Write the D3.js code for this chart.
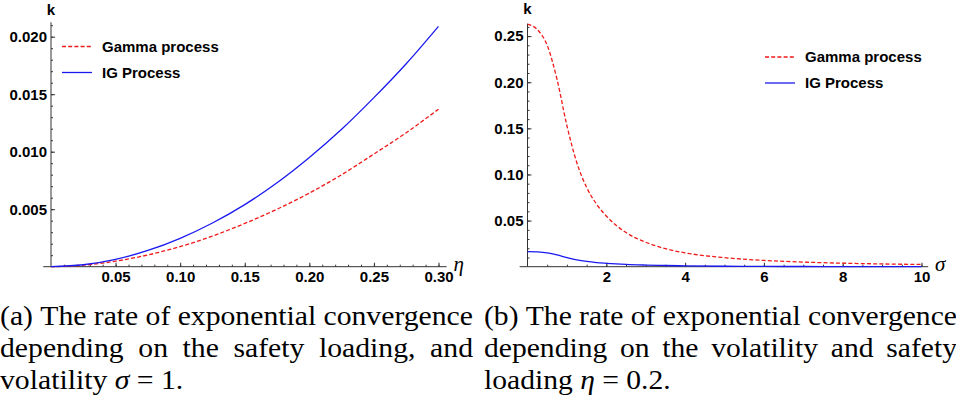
<!DOCTYPE html>
<html>
<head>
<meta charset="utf-8">
<script src="https://cdn.jsdelivr.net/npm/d3@7"></script>
<style>
  body { margin: 0; background: #fff; }
  svg { display: block; }
</style>
</head>
<body>
<svg id="chart" width="956" height="403"></svg>
<script>
// panel (a): k against safety loading eta, sigma = 1
const etaValues = [0, 0.025, 0.05, 0.075, 0.10, 0.125, 0.15, 0.175, 0.20, 0.225, 0.25, 0.275, 0.30]
const gammaByEta = [0, 0.00013, 0.00048, 0.00102, 0.00175, 0.00266, 0.00376, 0.0050, 0.0064, 0.0080, 0.0098, 0.01165, 0.0137]
const igByEta = [0, 0.00017, 0.00064, 0.00141, 0.00247, 0.0038, 0.0054, 0.0073, 0.0095, 0.01195, 0.0147, 0.01765, 0.0209]

// panel (b): k against volatility sigma, eta = 0.2
const sigmaValues = [0, 0.25, 0.5, 0.75, 1, 1.25, 1.5, 1.75, 2, 2.5, 3, 3.5, 4, 5, 6, 7, 8, 9, 10]
const gammaBySigma = [0.263, 0.257, 0.240, 0.203, 0.153, 0.113, 0.086, 0.068, 0.055, 0.037, 0.0265, 0.0195, 0.015, 0.0098, 0.0068, 0.0050, 0.0038, 0.0030, 0.0024]
const igBySigma = [0.0163, 0.0160, 0.0150, 0.0128, 0.0098, 0.0074, 0.0057, 0.0045, 0.0037, 0.0025, 0.0018, 0.0013, 0.0009, 0.0005, 0.0003, 0.0002, 0.00015, 0.0001, 0.0001]

const etaTicks = [0.05, 0.10, 0.15, 0.20, 0.25, 0.30]
const kTicksA = [0.005, 0.010, 0.015, 0.020]
const sigmaTicks = [2, 4, 6, 8, 10]
const kTicksB = [0.05, 0.10, 0.15, 0.20, 0.25]

const seriesNames = ["Gamma process", "IG Process"]

const captionA = ["(a) The rate of exponential convergence", "depending on the safety loading, and"]
const captionB = ["(b) The rate of exponential convergence", "depending on the volatility and safety"]

const red = "#f01818"
const blue = "#1a1af0"
const axisColor = "#333"
const tickFont = "'Liberation Sans', Arial, sans-serif"
const serifFont = "'Liberation Serif', 'Times New Roman', serif"
const captionSize = '28px'

const svg = d3.select('#chart')

drawPanel = (opts) => {
  const g = svg.append('g')
  const x = d3.scaleLinear().domain(opts.xDomain).range(opts.xRange)
  const y = d3.scaleLinear().domain(opts.yDomain).range(opts.yRange)

  // minor ticks first
  g.append('g')
    .attr('transform', `translate(0,${y(0)})`)
    .call(d3.axisBottom(x).tickValues(opts.xMinor).tickSize(-2).tickFormat(''))
    .call(a => a.select('.domain').remove())
    .call(a => a.selectAll('.tick line').attr('stroke', axisColor))

  g.append('g')
    .attr('transform', `translate(${x(0)},0)`)
    .call(d3.axisLeft(y).tickValues(opts.yMinor).tickSize(-2).tickFormat(''))
    .call(a => a.select('.domain').remove())
    .call(a => a.selectAll('.tick line').attr('stroke', axisColor))

  // major ticks + labels
  g.append('g')
    .attr('transform', `translate(0,${y(0)})`)
    .call(d3.axisBottom(x).tickValues(opts.xTicks).tickSize(-4).tickPadding(5).tickFormat(opts.xFormat))
    .call(a => a.select('.domain').remove())
    .call(a => a.selectAll('.tick line').attr('stroke', axisColor))
    .call(a => a.selectAll('.tick text')
      .attr('fill', '#000')
      .style('font-family', tickFont)
      .style('font-size', '15px')
      .style('font-weight', 700))

  g.append('g')
    .attr('transform', `translate(${x(0)},0)`)
    .call(d3.axisLeft(y).tickValues(opts.yTicks).tickSize(-4).tickPadding(4).tickFormat(opts.yFormat))
    .call(a => a.select('.domain').remove())
    .call(a => a.selectAll('.tick line').attr('stroke', axisColor))
    .call(a => a.selectAll('.tick text')
      .attr('fill', '#000')
      .style('font-family', tickFont)
      .style('font-size', '15px')
      .style('font-weight', 700))

  // axis lines
  g.append('line')
    .attr('x1', x(opts.xAxisExtent[0])).attr('x2', x(opts.xAxisExtent[1]))
    .attr('y1', y(0)).attr('y2', y(0))
    .attr('stroke', axisColor).attr('stroke-width', 1)
  g.append('line')
    .attr('x1', x(0)).attr('x2', x(0))
    .attr('y1', y(0)).attr('y2', y(opts.yAxisTop))
    .attr('stroke', axisColor).attr('stroke-width', 1)

  // axis names
  g.append('text')
    .attr('x', x(0)).attr('y', opts.kLabelY)
    .attr('text-anchor', 'middle')
    .style('font-family', tickFont).style('font-size', '15px').style('font-weight', 700)
    .text('k')
  g.append('text')
    .attr('x', x(opts.xAxisExtent[1]) + 12).attr('y', y(0) + 4)
    .attr('text-anchor', 'middle')
    .style('font-family', serifFont).style('font-size', '21px').style('font-style', 'italic')
    .text(opts.xName)

  // curves
  const line = d3.line()
    .x(d => x(d[0]))
    .y(d => y(d[1]))
    .curve(d3.curveMonotoneX)

  g.append('path')
    .attr('d', line(d3.zip(opts.xs, opts.gamma)))
    .attr('fill', 'none')
    .attr('stroke', red)
    .attr('stroke-width', 1.3)
    .attr('stroke-dasharray', '4,2.2')

  g.append('path')
    .attr('d', line(d3.zip(opts.xs, opts.ig)))
    .attr('fill', 'none')
    .attr('stroke', blue)
    .attr('stroke-width', 1.3)

  // legend
  const lg = g.append('g').attr('transform', `translate(${opts.legend[0]},${opts.legend[1]})`)
  seriesNames.forEach((name, i) => {
    lg.append('line')
      .attr('x1', 0).attr('x2', 30)
      .attr('y1', i * 26).attr('y2', i * 26)
      .attr('stroke', i ? blue : red)
      .attr('stroke-width', 1.3)
      .attr('stroke-dasharray', i ? null : '4,2.2')
    lg.append('text')
      .attr('x', 40).attr('y', i * 26 + 5)
      .style('font-family', tickFont).style('font-size', '15px').style('font-weight', 700)
      .text(name)
  })
}

drawPanel({
  xDomain: [0, 0.30], xRange: [51, 438.5],
  yDomain: [0, 0.020], yRange: [266.7, 36.7],
  xAxisExtent: [-0.006, 0.3063], yAxisTop: 0.02125,
  xTicks: etaTicks, xMinor: d3.range(1, 31).map(i => i / 100),
  yTicks: kTicksA, yMinor: d3.range(1, 22).map(i => i / 1000),
  xFormat: d3.format('.2f'), yFormat: d3.format('.3f'),
  xs: etaValues, gamma: gammaByEta, ig: igByEta,
  xName: 'η', kLabelY: 15, legend: [62, 46.5]
})

drawPanel({
  xDomain: [0, 10], xRange: [527.5, 921.5],
  yDomain: [0, 0.25], yRange: [266.7, 36.1],
  xAxisExtent: [-0.2, 10.17], yAxisTop: 0.2635,
  xTicks: sigmaTicks, xMinor: d3.range(1, 21).map(i => i / 2),
  yTicks: kTicksB, yMinor: d3.range(1, 27).map(i => i / 100),
  xFormat: d3.format('d'), yFormat: d3.format('.2f'),
  xs: sigmaValues, gamma: gammaBySigma, ig: igBySigma,
  xName: 'σ', kLabelY: 13.5, legend: [765, 57]
})

// captions, justified like the LaTeX subcaptions
drawCaption = (lines, lastLine, x0, x1) => {
  const baselines = [325, 357, 389]
  const measure = (str) => {
    const t = svg.append('text').style('font-family', serifFont).style('font-size', captionSize).text(str)
    const w = t.node().getComputedTextLength()
    t.remove()
    return w
  }
  const s = (x1 - x0) / measure(lines[0])
  lines.forEach((str, li) => {
    const words = str.split(' ')
    const widths = words.map(measure)
    const gap = ((x1 - x0) / s - d3.sum(widths)) / (words.length - 1)
    const g = svg.append('g').attr('transform', `translate(${x0},${baselines[li]}) scale(${s},1)`)
    let cx = 0
    words.forEach((w, i) => {
      g.append('text').attr('x', cx)
        .style('font-family', serifFont).style('font-size', captionSize)
        .text(w)
      cx += widths[i] + gap
    })
  })
  const t = svg.append('text')
    .attr('transform', `translate(${x0},${baselines[2]}) scale(${s},1)`)
    .style('font-family', serifFont).style('font-size', captionSize)
  lastLine.forEach(p => {
    t.append('tspan').style('font-style', p.italic ? 'italic' : 'normal').text(p.text)
  })
}

drawCaption(captionA, [{ text: 'volatility ' }, { text: 'σ', italic: true }, { text: ' = 1.' }], 0, 473)
drawCaption(captionB, [{ text: 'loading ' }, { text: 'η', italic: true }, { text: ' = 0.2.' }], 484, 957)
</script>
</body>
</html>
